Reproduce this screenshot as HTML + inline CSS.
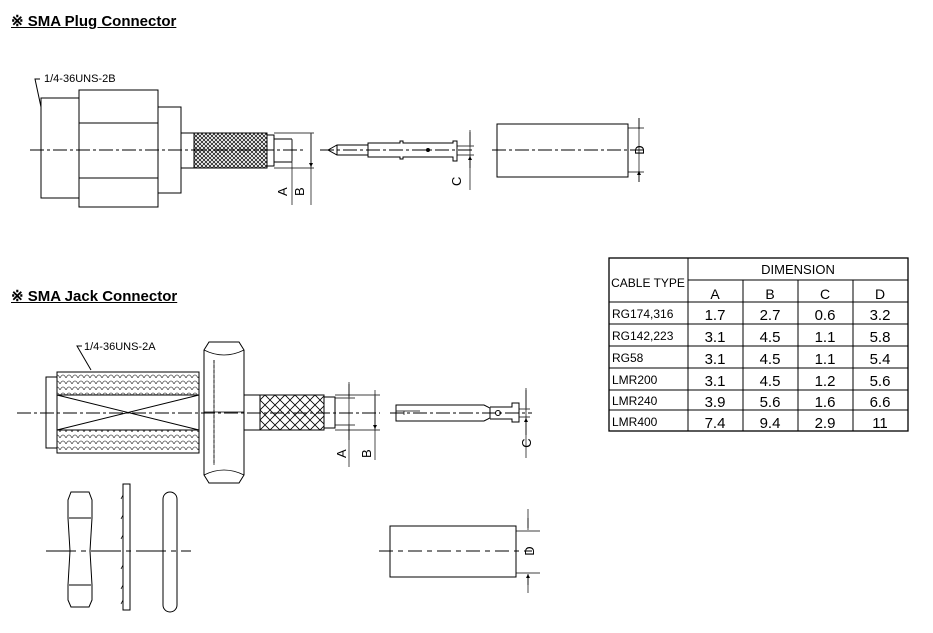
<!DOCTYPE html>
<html><head><style>
body{margin:0;background:#fff;width:933px;height:633px;overflow:hidden;font-family:"Liberation Sans",sans-serif}
.t{position:absolute;left:11px;font-weight:bold;font-size:15px;text-decoration:underline}
</style></head><body>
<div class="t" style="top:12px">※ SMA Plug Connector</div>
<div class="t" style="top:287px">※ SMA Jack Connector</div>
<svg width="933" height="633" style="position:absolute;left:0;top:0" font-family="Liberation Sans, sans-serif">
<defs>
<pattern id="kn" width="4" height="4" patternUnits="userSpaceOnUse"><path d="M0,0L4,4M4,0L0,4" stroke="#000" stroke-width="0.7"/></pattern>
<pattern id="kn2" width="10" height="10" patternUnits="userSpaceOnUse"><path d="M0,0L10,10M10,0L0,10" stroke="#000" stroke-width="0.8"/></pattern>
<pattern id="th" width="6" height="6" patternUnits="userSpaceOnUse"><path d="M0,6Q3,0 6,6" fill="none" stroke="#555" stroke-width="0.8"/></pattern>
<marker id="ar" markerWidth="6" markerHeight="6" refX="6" refY="3" orient="auto"><path d="M0,0L6,3L0,6z"/></marker>
</defs>
<g fill="none" stroke="#000" stroke-width="1">
<!-- PLUG -->
<text x="44" y="82" font-size="11" fill="#000" stroke="none">1/4-36UNS-2B</text>
<path d="M40,79H35L41,107"/>
<rect x="41" y="98" width="38" height="100"/>
<rect x="79" y="90" width="79" height="117"/>
<path d="M79,123H158M79,178H158"/>
<rect x="158" y="107" width="23" height="86"/>
<rect x="181" y="133" width="13" height="35"/>
<rect x="194" y="133" width="73" height="35" fill="url(#kn)"/>
<path d="M267,135H274V166H267M274,139H292M274,162H292"/>
<path d="M274,133H314M274,168H314M292,139V205M311,133V205" stroke-width="0.7"/>
<path d="M292,150V140M292,150V161M311,150V134M311,150V167" marker-end="url(#ar)" stroke-width="0.7"/>
<path d="M30,150H305" stroke-dasharray="14,3,3,3"/>
<text transform="translate(287,196) rotate(-90)" font-size="13" fill="#000" stroke="none">A</text>
<text transform="translate(304,196) rotate(-90)" font-size="13" fill="#000" stroke="none">B</text>
<!-- pin -->
<path d="M328,150L337,145H368V143H400V141H403V143H453V141H457V161H453V157H403V159H400V157H368V155H337Z"/>
<path d="M368,145V155M337,145V155"/>
<circle cx="428" cy="150" r="1.5" fill="#000"/>
<path d="M320,150H474" stroke-dasharray="14,3,3,3"/>
<path d="M457,146H474M457,155H474M470,130V190" stroke-width="0.7"/>
<path d="M470,132V145M470,168V156" marker-end="url(#ar)" stroke-width="0.7"/>
<text transform="translate(461,186) rotate(-90)" font-size="13" fill="#000" stroke="none">C</text>
<!-- sleeve -->
<rect x="497" y="124" width="131" height="53"/>
<path d="M628,128H644M628,172H644M639,118V182" stroke-width="0.7"/>
<path d="M639,118V129M639,182V171" marker-end="url(#ar)" stroke-width="0.7"/>
<path d="M492,150H645" stroke-dasharray="14,3,3,3"/>
<text transform="translate(644,150) rotate(-90)" text-anchor="middle" font-size="13" fill="#000" stroke="none">D</text>
<!-- JACK -->
<text x="84" y="350" font-size="11" fill="#000" stroke="none">1/4-36UNS-2A</text>
<path d="M82,346H77L91,370"/>
<rect x="46" y="377" width="11" height="71"/>
<rect x="57" y="372" width="142" height="81" fill="url(#th)"/>
<rect x="57" y="395" width="142" height="35" fill="#fff"/>
<path d="M57,395L199,430M57,430L199,395"/>
<path d="M204,350L209,342H239L244,350V475L239,483H209L204,475Z" fill="#fff"/>
<path d="M204,412H244M214,360V465M204,350Q224,360 244,350M204,475Q224,465 244,475" stroke-width="0.7"/>
<path d="M214,360V465" stroke-dasharray="3,2" stroke-width="0.7"/>
<rect x="244" y="395" width="16" height="35"/>
<rect x="260" y="395" width="64" height="35" fill="url(#kn2)"/>
<path d="M324,397H335V428H324"/>
<path d="M335,398H355M335,425H355M335,395H380M335,430H380M349,382V467M375,390V460" stroke-width="0.7"/>
<path d="M349,384V397M349,440V426M375,412V396M375,412V429" marker-end="url(#ar)" stroke-width="0.7"/>
<path d="M17,413H380" stroke-dasharray="14,3,3,3"/>
<text transform="translate(346,458) rotate(-90)" font-size="13" fill="#000" stroke="none">A</text>
<text transform="translate(371,458) rotate(-90)" font-size="13" fill="#000" stroke="none">B</text>
<!-- jack pin -->
<path d="M396,405H484L490,408V418L484,421H396Z"/>
<path d="M396,411H420M404,411V415" stroke-width="0.7"/>
<path d="M490,407H512V403H519V422H512V419H490"/>
<circle cx="498" cy="413" r="2.5"/>
<path d="M519,409H530M519,417H530M526,388V458" stroke-width="0.7"/>
<path d="M526,390V408M526,435V418" marker-end="url(#ar)" stroke-width="0.7"/>
<path d="M390,413H532" stroke-dasharray="14,3,3,3"/>
<text transform="translate(531,443) rotate(-90)" text-anchor="middle" font-size="13" fill="#000" stroke="none">C</text>
<!-- nut, washers -->
<path d="M71,492H89L92,500V518L90,551L92,585V600L89,607H71L68,600V585L70,551L68,518V500Z"/>
<path d="M69,518H91M69,585H91"/>
<rect x="123" y="484" width="7" height="126"/>
<path d="M123,495l-2,4M123,515l-2,4M123,535l-2,4M123,565l-2,4M123,585l-2,4M123,600l-2,4" stroke-width="0.8"/>
<rect x="163" y="492" width="14" height="120" rx="7"/>
<path d="M46,551H191" stroke-dasharray="30,5,5,5"/>
<rect x="390" y="526" width="126" height="51"/>
<path d="M516,531H540M516,573H540M528,509V528M528,576V593" stroke-width="0.7"/>
<path d="M528,518V530M528,585V574" marker-end="url(#ar)" stroke-width="0.7"/>
<path d="M379,551H532" stroke-dasharray="14,5,5,5"/>
<text transform="translate(534,551) rotate(-90)" text-anchor="middle" font-size="13" fill="#000" stroke="none">D</text>
<!-- TABLE -->
<rect x="609" y="258" width="299" height="173" stroke-width="1.3"/>
<path d="M688,258V431M688,280H908M609,302H908M743,280V431M798,280V431M853,280V431M609,324H908M609,346H908M609,368H908M609,390H908M609,410H908"/>
</g>
<g font-size="12" fill="#000" text-anchor="middle">
<text x="798" y="274" font-size="13">DIMENSION</text>
<text x="648" y="287">CABLE TYPE</text>
<text x="715" y="299" font-size="14">A</text><text x="770" y="299" font-size="14">B</text><text x="825" y="299" font-size="14">C</text><text x="880" y="299" font-size="14">D</text>
</g>
<g font-size="12" fill="#000">
<text x="612" y="318">RG174,316</text><text x="612" y="340">RG142,223</text><text x="612" y="362">RG58</text><text x="612" y="384">LMR200</text><text x="612" y="405">LMR240</text><text x="612" y="426">LMR400</text>
</g>
<g font-size="15" fill="#000" text-anchor="middle">
<text x="715" y="320">1.7</text><text x="770" y="320">2.7</text><text x="825" y="320">0.6</text><text x="880" y="320">3.2</text>
<text x="715" y="342">3.1</text><text x="770" y="342">4.5</text><text x="825" y="342">1.1</text><text x="880" y="342">5.8</text>
<text x="715" y="364">3.1</text><text x="770" y="364">4.5</text><text x="825" y="364">1.1</text><text x="880" y="364">5.4</text>
<text x="715" y="386">3.1</text><text x="770" y="386">4.5</text><text x="825" y="386">1.2</text><text x="880" y="386">5.6</text>
<text x="715" y="407">3.9</text><text x="770" y="407">5.6</text><text x="825" y="407">1.6</text><text x="880" y="407">6.6</text>
<text x="715" y="428">7.4</text><text x="770" y="428">9.4</text><text x="825" y="428">2.9</text><text x="880" y="428">11</text>
</g>
</svg>
</body></html>
